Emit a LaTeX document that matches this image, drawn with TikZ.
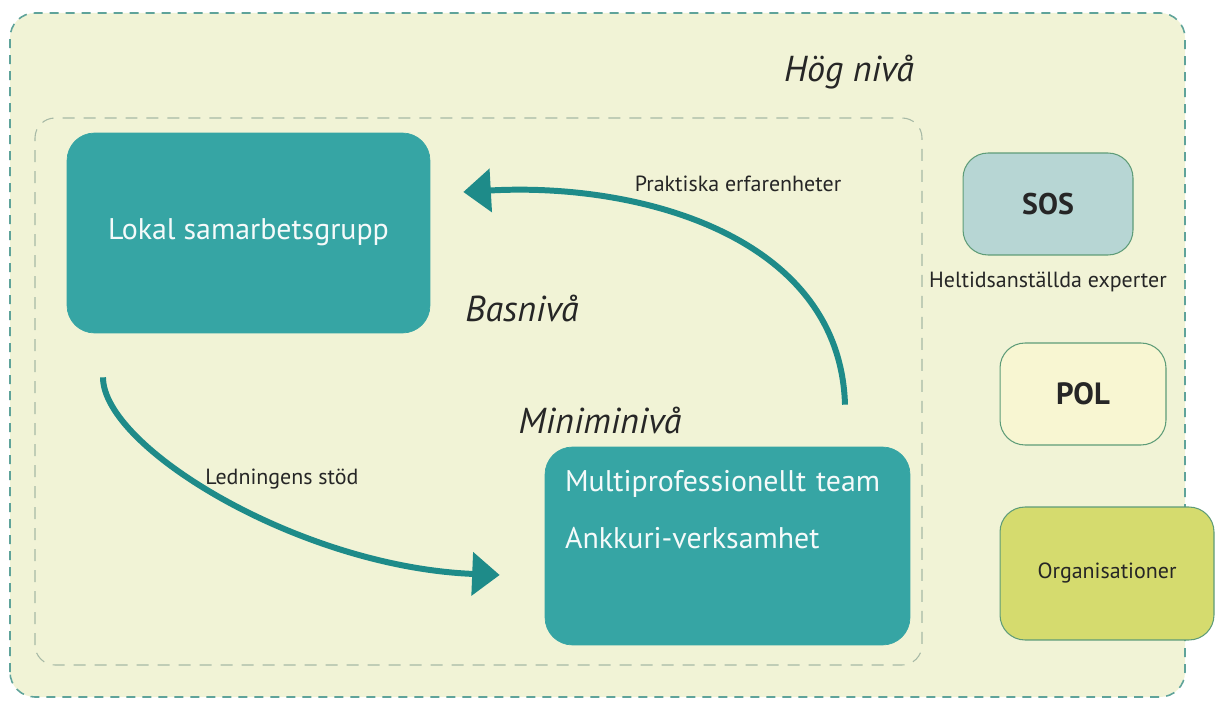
\documentclass[tikz,border=0pt]{standalone}
\usepackage{fontspec}
\setmainfont{PT Sans}
\usetikzlibrary{arrows.meta,positioning}

\definecolor{bgcream}{HTML}{F1F3D6}
\definecolor{outerline}{HTML}{5FA39A}
\definecolor{innerline}{HTML}{A7B9A6}
\definecolor{boxteal}{HTML}{36A5A4}
\definecolor{arrowteal}{HTML}{1E8B89}
\definecolor{sosfill}{HTML}{B7D6D4}
\definecolor{polfill}{HTML}{F8F6D2}
\definecolor{orgfill}{HTML}{D5DB6E}
\definecolor{sideline}{HTML}{5E9C78}

\begin{document}
\begin{tikzpicture}[
	x=0.02cm, y=0.02cm,
	tealbox/.style={rectangle,rounded corners=0.55cm,fill=boxteal,draw=boxteal,text=white!95!boxteal},
	sidebox/.style={rectangle,rounded corners=0.5cm,draw=sideline,line width=0.6pt,text=black!85},
	level/.style={font=\fontsize{20.5}{24}\selectfont\itshape,text=black!85},
	note/.style={font=\fontsize{12.5}{15}\selectfont,text=black!85},
	flow/.style={draw=arrowteal,line width=3.4pt,-{Triangle[length=0.55cm,width=0.85cm]}},
	]
	\useasboundingbox (0,0) rectangle (1219,707);
	% frames
	\draw [fill=bgcream,draw=outerline,line width=0.9pt,dash pattern=on 0.18cm off 0.14cm,rounded corners=0.5cm]
		(10,10) rectangle (1185,694);
	\draw [draw=innerline,line width=0.6pt,dash pattern=on 0.24cm off 0.18cm,rounded corners=0.4cm]
		(35,42) rectangle (922,589);

	% main boxes
	\node [tealbox,minimum width=7.26cm,minimum height=4cm,
		font=\fontsize{17}{20}\selectfont] (lokal) at (248.5,474) {\raisebox{4pt}{Lokal samarbetsgrupp}};
	\node [tealbox,minimum width=7.3cm,minimum height=3.96cm,text width=6.5cm,inner xsep=0.4cm,align=left,
		font=\fontsize{17}{32}\selectfont] (multi) at (727.5,161)
		{Multiprofessionellt team\\Ankkuri-verksamhet\\\strut};

	% side boxes
	\node [sidebox,fill=sosfill,minimum width=3.4cm,minimum height=2.04cm,
		font=\fontsize{17}{20}\selectfont\bfseries] (sos) at (1048,503) {SOS};
	\node [note,below=0.2cm of sos] (experts) {Heltidsanställda experter};
	\node [sidebox,fill=polfill,minimum width=3.32cm,minimum height=2.04cm,
		font=\fontsize{17.5}{20}\selectfont\bfseries] (pol) at (1083,313) {POL};
	\node [sidebox,fill=orgfill,minimum width=4.28cm,minimum height=2.66cm,
		font=\fontsize{12.5}{15}\selectfont] (org) at (1107,133.5) {Organisationer};

	% levels
	\node [level] (hog) at (849,635) {Hög nivå};
	\node [level] (bas) at (522,399) {Basnivå};
	\node [level] (mini) at (600,287) {Miniminivå};

	% arrows
	\draw [flow] ([shift={(117.5,42)}]multi.north) .. controls +(-5,168) and +(177,10) .. ([shift={(33,41)}]lokal.east);
	\draw [flow] ([shift={(-145.5,-44)}]lokal.south) .. controls +(0,-70) and +(-200,8) .. ([shift={(-45,-29)}]multi.west);
	\node [note] (praktik) at (738,523) {Praktiska erfarenheter};
	\node [note] (ledning) at (282,228) {Ledningens stöd};
\end{tikzpicture}
\end{document}
